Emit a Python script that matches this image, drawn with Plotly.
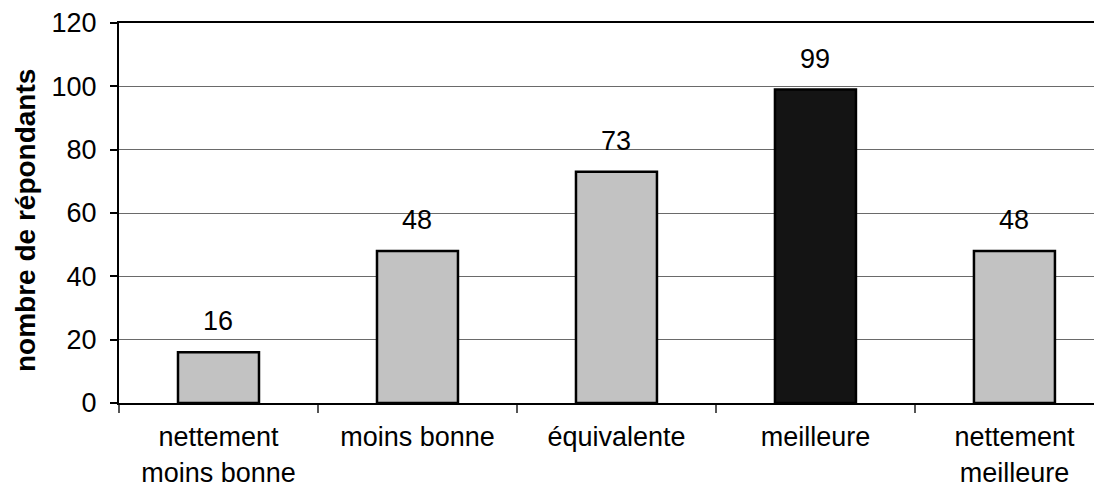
import plotly.graph_objects as go

categories = ["nettement<br>moins bonne", "moins bonne", "équivalente", "meilleure", "nettement<br>meilleure"]
values = [16, 48, 73, 99, 48]
colors = ["#c2c2c2", "#c2c2c2", "#c2c2c2", "#141414", "#c2c2c2"]
y_ticks = [0, 20, 40, 60, 80, 100, 120]
y_title = "nombre de répondants"

FONT = "Liberation Sans, Arial, sans-serif"

fig = go.Figure(go.Bar(
    x=categories, y=values,
    marker=dict(color=colors, line=dict(color="#000000", width=2.5)),
    width=0.407,
    cliponaxis=False,
))

for c, v in zip(categories, values):
    fig.add_annotation(
        x=c, y=v, xref="x", yref="y", text=str(v), showarrow=False,
        yanchor="bottom", yshift=14,
        font=dict(size=27, color="#000000", family=FONT),
    )

fig.add_annotation(
    x=0, y=0.5, xref="paper", yref="paper", text="<b>" + y_title + "</b>",
    textangle=-90, showarrow=False, xanchor="center", yanchor="middle",
    xshift=-94, yshift=-8, font=dict(size=28, color="#000000", family=FONT),
)

# page body has an 8px default margin: figure sized/offset to compensate
fig.update_layout(
    width=1094, height=481,
    margin=dict(l=111, r=0, t=15, b=86, autoexpand=False),
    paper_bgcolor="white", plot_bgcolor="white",
    font=dict(family=FONT, size=27, color="#000000"),
    showlegend=False,
)
fig.update_xaxes(
    type="category", range=[-0.5, 4.44], tickson="boundaries", ticks="outside", ticklen=8,
    tickcolor="#555555", tickwidth=1.5, showline=True, linecolor="#000000", linewidth=2,
    mirror=True, showgrid=False, tickfont=dict(size=27), automargin=False,
    ticklabelstandoff=9,
)
fig.update_yaxes(
    range=[0, 120], tickvals=y_ticks, ticks="outside", ticklen=7,
    tickcolor="#000000", tickwidth=1.5, showline=True, linecolor="#000000", linewidth=2,
    showgrid=True, gridcolor="#6a6a6a", gridwidth=1.2, zeroline=False,
    tickfont=dict(size=27), automargin=False, ticklabelstandoff=8,
)

fig.write_html("out.html")
